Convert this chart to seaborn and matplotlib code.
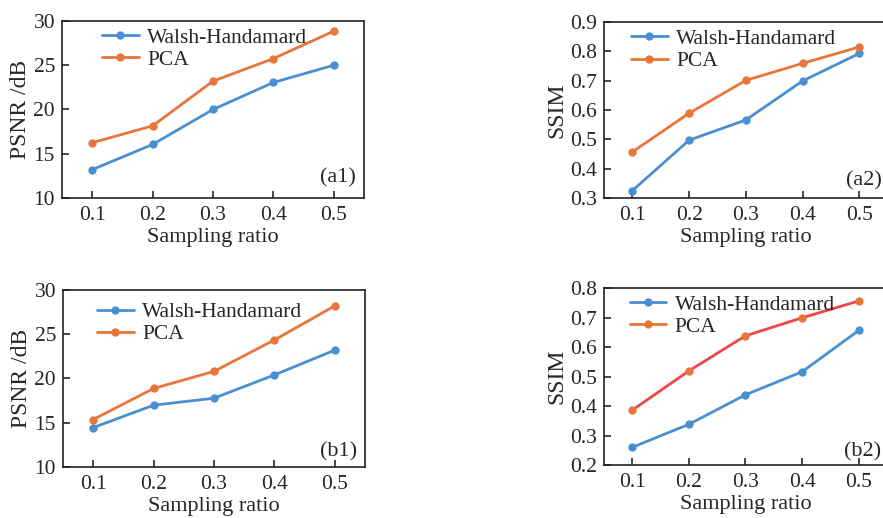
# plot.py
# Recreates the four panel PSNR / SSIM comparison of Walsh-Handamard and PCA sampling.

# Section 1: Imports
import pandas as pd
import matplotlib
matplotlib.use("Agg")
import matplotlib.pyplot as plt
import seaborn as sns

# Section 1.1: Data
sampling_ratio = [0.1, 0.2, 0.3, 0.4, 0.5]
methods = ["Walsh-Handamard", "PCA"]

a1_walsh = [13.2, 16.05, 20.0, 23.05, 25.0]
a1_pca = [16.25, 18.15, 23.2, 25.75, 28.85]

a2_walsh = [0.325, 0.497, 0.566, 0.699, 0.793]
a2_pca = [0.457, 0.589, 0.701, 0.759, 0.815]

b1_walsh = [14.45, 16.98, 17.77, 20.4, 23.2]
b1_pca = [15.36, 18.87, 20.8, 24.35, 28.2]

b2_walsh = [0.26, 0.338, 0.438, 0.516, 0.656]
b2_pca = [0.386, 0.519, 0.638, 0.699, 0.756]

panel_labels = ["(a1)", "(a2)", "(b1)", "(b2)"]
y_labels = ["PSNR /dB", "SSIM", "PSNR /dB", "SSIM"]
y_ticks = [
    [10, 15, 20, 25, 30],
    [0.3, 0.4, 0.5, 0.6, 0.7, 0.8, 0.9],
    [10, 15, 20, 25, 30],
    [0.2, 0.3, 0.4, 0.5, 0.6, 0.7, 0.8],
]

# colours
blue = "#4a8fd0"
orange = "#e8763a"
red = "#f04545"


# Section 1.2: build a long table per panel so seaborn can draw it
def make_table(walsh, pca):
    rows = []
    for x, w, p in zip(sampling_ratio, walsh, pca):
        rows.append({"ratio": x, "value": w, "method": methods[0]})
        rows.append({"ratio": x, "value": p, "method": methods[1]})
    return pd.DataFrame(rows)


tables = [
    make_table(a1_walsh, a1_pca),
    make_table(a2_walsh, a2_pca),
    make_table(b1_walsh, b1_pca),
    make_table(b2_walsh, b2_pca),
]

# Section 2: Figure
sns.set_style("ticks")
plt.rcParams["font.family"] = ["Liberation Serif", "DejaVu Serif"]

fig = plt.figure(figsize=(8.83, 5.18), dpi=100)

# axes boxes in figure fractions (left, bottom, width, height)
boxes = [
    [0.0702, 0.6178, 0.3420, 0.3417],
    [0.6840, 0.6178, 0.3213, 0.3397],
    [0.0713, 0.0985, 0.3420, 0.3417],
    [0.6840, 0.1023, 0.3205, 0.3417],
]
# where the legend and the panel tag sit in each panel (axes fractions)
legend_anchor = [(0.09, 1.035), (0.05, 1.035), (0.07, 1.005), (0.045, 1.035)]
tag_pos = [(0.973, 0.113), (0.979, 0.10), (0.973, 0.085), (0.98, 0.073)]

for i, df in enumerate(tables):
    ax = fig.add_axes(boxes[i])
    sns.lineplot(data=df, x="ratio", y="value", hue="method",
                 palette=[blue, orange], marker="o", markersize=6,
                 markeredgewidth=0, linewidth=2.0, ax=ax)

    # the b2 panel draws the PCA line in red, markers stay orange
    if i == 3:
        ax.lines[1].set_color(red)
        ax.lines[1].set_markerfacecolor(orange)

    handles, labels = ax.get_legend_handles_labels()
    ax.legend(handles, labels, loc="upper left", bbox_to_anchor=legend_anchor[i],
              frameon=False, fontsize=15.5, handlelength=1.7, handletextpad=0.4,
              labelspacing=0.1, borderaxespad=0.2)

    ax.set_xlim(0.05, 0.55)
    ax.set_xticks(sampling_ratio)
    ax.set_xticklabels([f"{x:.1f}" for x in sampling_ratio])
    yt = y_ticks[i]
    ax.set_ylim(yt[0], yt[-1])
    ax.set_yticks(yt)
    if isinstance(yt[0], float):
        ax.set_yticklabels([f"{y:.1f}" for y in yt])

    ax.set_xlabel("Sampling ratio", fontsize=16, labelpad=2)
    ax.set_ylabel(y_labels[i], fontsize=17, labelpad=2)
    ax.tick_params(direction="in", length=5, width=1.2, labelsize=15.5,
                   top=False, right=False, pad=6)
    ax.tick_params(axis="y", pad=5)
    for spine in ax.spines.values():
        spine.set_linewidth(1.2)
        spine.set_color("#222222")

    ax.text(tag_pos[i][0], tag_pos[i][1], panel_labels[i], transform=ax.transAxes,
            ha="right", va="center", fontsize=16)

# Save the figure
fig.savefig("out.png", dpi=100)
plt.close(fig)
